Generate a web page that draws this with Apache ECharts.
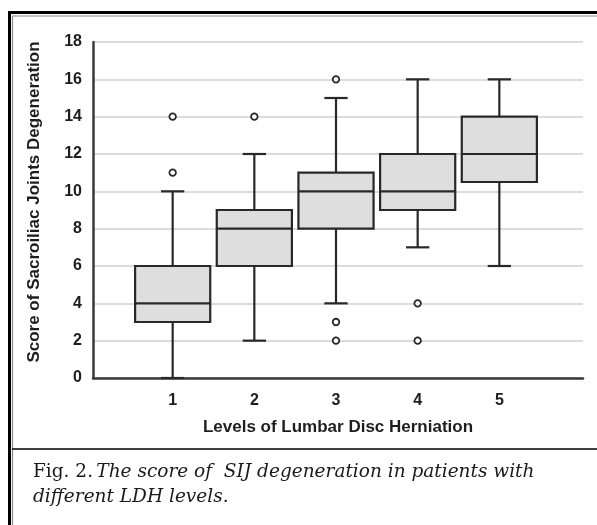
<!DOCTYPE html>
<html>
<head>
<meta charset="utf-8">
<script src="https://cdn.jsdelivr.net/npm/echarts@6/dist/echarts.min.js"></script>
<style>
html,body{margin:0;padding:0;background:#fff;}
#chart{width:597px;height:525px;}
</style>
</head>
<body>
<div id="chart"></div>
<script>
// Category tick labels (blank ends give the axis its padding)
const xCategories = ['', '1', '2', '3', '4', '5', ''];
const yTicks = [0, 2, 4, 6, 8, 10, 12, 14, 16, 18];
// Box statistics per level
const levelIndex = [1, 2, 3, 4, 5];
const whiskerLow = [0, 2, 4, 7, 6];
const q1 = [3, 6, 8, 9, 10.5];
const median = [4, 8, 10, 10, 12];
const q3 = [6, 9, 11, 12, 14];
const whiskerHigh = [10, 12, 15, 16, 16];
// Outliers: [categoryIndex, value]
const outliers = [[1, 11], [1, 14], [2, 14], [3, 16], [3, 3], [3, 2], [4, 4], [4, 2]];

const boxData = levelIndex.map((c, i) => [c, whiskerLow[i], q1[i], median[i], q3[i], whiskerHigh[i]]);

const chart = echarts.init(document.getElementById('chart'), null, {renderer: 'canvas'});
const dark = '#282828';
const font = 'Liberation Sans, Arial, sans-serif';
const serif = 'DejaVu Serif, serif';

function renderBox(params, api) {
  const x = api.value(0);
  const pLow = api.coord([x, api.value(1)]);
  const pQ1 = api.coord([x, api.value(2)]);
  const pMed = api.coord([x, api.value(3)]);
  const pQ3 = api.coord([x, api.value(4)]);
  const pHigh = api.coord([x, api.value(5)]);
  const band = api.size([1, 0])[0];
  const bw = band * 0.92;
  const cw = bw * 0.31;
  const cx = pMed[0] - 2;
  const lineStyle = {stroke: dark, lineWidth: 2.2, fill: null};
  return {
    type: 'group',
    children: [
      {type: 'line', shape: {x1: cx, y1: pQ3[1], x2: cx, y2: pHigh[1]}, style: lineStyle},
      {type: 'line', shape: {x1: cx, y1: pQ1[1], x2: cx, y2: pLow[1]}, style: lineStyle},
      {type: 'line', shape: {x1: cx - cw / 2, y1: pHigh[1], x2: cx + cw / 2, y2: pHigh[1]}, style: lineStyle},
      {type: 'line', shape: {x1: cx - cw / 2, y1: pLow[1], x2: cx + cw / 2, y2: pLow[1]}, style: lineStyle},
      {type: 'rect', shape: {x: cx - bw / 2, y: pQ3[1], width: bw, height: pQ1[1] - pQ3[1]},
        style: {fill: '#dedede', stroke: dark, lineWidth: 2.2}},
      {type: 'line', shape: {x1: cx - bw / 2, y1: pMed[1], x2: cx + bw / 2, y2: pMed[1]}, style: lineStyle}
    ]
  };
}

const option = {
  backgroundColor: '#ffffff',
  animation: false,
  grid: {left: 93, right: 14, top: 42, bottom: 147, containLabel: false},
  xAxis: {
    type: 'category',
    data: xCategories,
    boundaryGap: false,
    axisLine: {show: true, lineStyle: {color: '#3a3a3a', width: 2.5}},
    axisTick: {show: false},
    axisLabel: {color: '#1e1e1e', fontWeight: 'bold', fontSize: 16, fontFamily: font, margin: 15, interval: 0, padding: [0, 4, 0, 0]},
    splitLine: {show: false},
    name: 'Levels of Lumbar Disc Herniation',
    nameLocation: 'middle',
    nameGap: 41,
    nameTextStyle: {color: '#1e1e1e', fontWeight: 'bold', fontSize: 17, fontFamily: font}
  },
  yAxis: {
    type: 'value',
    min: yTicks[0],
    max: yTicks[yTicks.length - 1],
    interval: yTicks[1] - yTicks[0],
    axisLine: {show: true, lineStyle: {color: '#3a3a3a', width: 2.5}},
    axisTick: {show: false},
    axisLabel: {color: '#1e1e1e', fontWeight: 'bold', fontSize: 16, fontFamily: font, margin: 11},
    splitLine: {show: true, lineStyle: {color: '#dcdcdc', width: 2}},
    name: 'Score of Sacroiliac Joints Degeneration',
    nameLocation: 'middle',
    nameGap: 50,
    nameRotate: 90,
    nameTextStyle: {color: '#1e1e1e', fontWeight: 'bold', fontSize: 17, fontFamily: font, padding: [0, 0, 0, 16]}
  },
  series: [
    {
      type: 'custom',
      renderItem: renderBox,
      encode: {x: 0, y: [1, 2, 3, 4, 5]},
      data: boxData,
      z: 3
    },
    {
      type: 'scatter',
      data: outliers,
      symbol: 'circle',
      symbolSize: 6.5,
      symbolOffset: [-2, 0],
      itemStyle: {color: '#ffffff', borderColor: dark, borderWidth: 1.8, opacity: 1},
      z: 4
    }
  ],
  graphic: [
    {type: 'rect', shape: {x: 9.5, y: 12.5, width: 620, height: 560}, style: {fill: null, stroke: '#000', lineWidth: 3}, z: 10},
    {type: 'rect', shape: {x: 12.5, y: 16, width: 620, height: 560}, style: {fill: null, stroke: '#888', lineWidth: 1.2}, z: 10},
    {type: 'line', shape: {x1: 12, y1: 449, x2: 597, y2: 449}, style: {stroke: '#000', lineWidth: 1.6}, z: 10},
    {
      type: 'text', left: 33, top: 463, z: 10,
      style: {
        text: '{n|Fig. 2.} {i|The score of  SIJ degeneration in patients with}\n{i|different LDH levels.}',
        rich: {
          n: {fontFamily: serif, fontSize: 18.5, fill: '#1a1a1a', lineHeight: 25},
          i: {fontFamily: serif, fontSize: 18.5, fontStyle: 'italic', fill: '#1a1a1a', lineHeight: 25}
        }
      }
    }
  ]
};
chart.setOption(option);
</script>
</body>
</html>
